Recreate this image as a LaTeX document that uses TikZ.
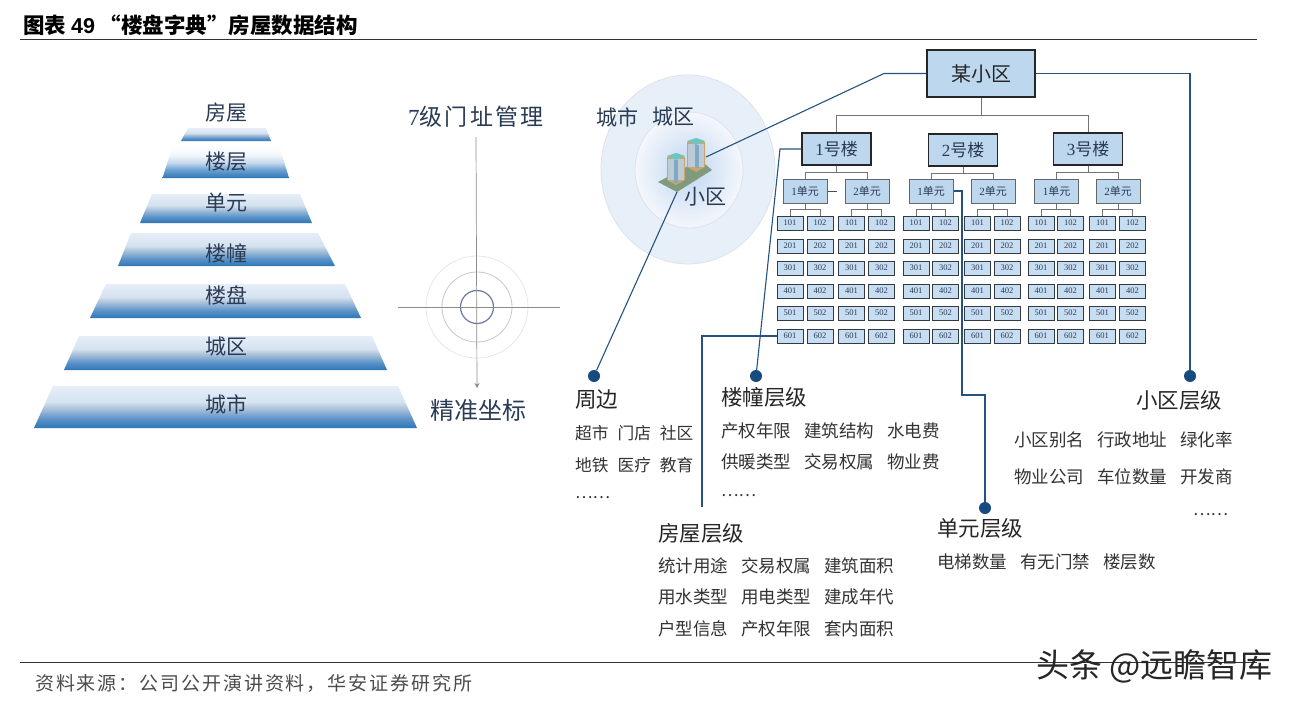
\documentclass[tikz,border=0pt]{standalone}
\usepackage{fontspec}
\setmainfont{Noto Sans CJK SC}
\newfontfamily\serifdig{Liberation Serif}
\newfontfamily\sansdig{Liberation Sans}
\usetikzlibrary{arrows.meta,calc}
\newcommand{\fs}[1]{\fontsize{#1}{#1}\selectfont}
\definecolor{boxblue}{HTML}{BDD7EE}
\definecolor{navy}{HTML}{26527F}
\definecolor{dotblue}{HTML}{174A7E}
\definecolor{inkblue}{HTML}{2A3B55}
\definecolor{inkgray}{HTML}{333A44}
\definecolor{pa}{HTML}{2E75B6}
\definecolor{pb}{HTML}{5B93C8}
\definecolor{pc}{HTML}{B5C9DE}
\definecolor{pd}{HTML}{D5E2F0}
\definecolor{pe}{HTML}{E6EEF8}
\definecolor{pf}{HTML}{6FA3D2}
\definecolor{pg}{HTML}{C5D8EC}
\definecolor{ph}{HTML}{F3F7FC}
\definecolor{ringout}{HTML}{E7F0F9}
\definecolor{ringedge}{HTML}{DDE3E8}
\definecolor{ringin}{HTML}{F4F7FC}
\definecolor{ringmid}{HTML}{BFD6F0}
\definecolor{twbase}{HTML}{7F9A7D}
\definecolor{twedge}{HTML}{C9A76C}
\definecolor{twbody}{HTML}{BCCBD6}
\definecolor{twstripe}{HTML}{7FA9C4}
\definecolor{twtop}{HTML}{6FC4BE}
\definecolor{tgt}{HTML}{6F78A8}
\pgfdeclareverticalshading{pyr}{100bp}{
 color(0bp)=(pa);
 color(25bp)=(pa);
 color(36bp)=(pb);
 color(50bp)=(pc);
 color(56bp)=(pd);
 color(75bp)=(pe);
 color(100bp)=(pe)}
\pgfdeclareverticalshading{pyrtop}{100bp}{
 color(0bp)=(pa);
 color(25bp)=(pa);
 color(38bp)=(pf);
 color(48bp)=(pg);
 color(60bp)=(ph);
 color(75bp)=(white);
 color(100bp)=(white)}
\tikzset{
 x=1pt,y=-1pt,
 room/.style={draw=inkgray,fill=boxblue!85!white,line width=.8pt,minimum width=26pt,minimum height=14pt,inner sep=0pt,text=inkblue,font=\serifdig\fs{8.5}},
 unitbox/.style={draw=black!60,fill=boxblue,line width=1pt,minimum width=44pt,minimum height=24pt,inner sep=0pt,text=inkblue,font=\fs{11}},
 bldbox/.style={draw=black!85,fill=boxblue,line width=1.4pt,minimum width=69pt,minimum height=32pt,inner sep=0pt,text=inkblue,font=\fs{17}},
 topbox/.style={draw=black!85,fill=boxblue,line width=1.4pt,minimum width=108pt,minimum height=47pt,inner sep=0pt,text=black!85,font=\fs{20}},
 tree/.style={draw=black!55,line width=1pt},
 lead/.style={draw=navy,line width=1.1pt,line join=miter},
 dotn/.style={circle,fill=dotblue,minimum size=12pt,inner sep=0pt},
 pyrlab/.style={text=inkblue,font=\fs{21},inner sep=0pt},
 big/.style={text=inkblue,font=\fs{21},inner sep=0pt},
 head/.style={anchor=west,text=black!85,font=\fs{21.5},inner sep=0pt},
 body/.style={anchor=west,text=black!80,font=\fs{17.5},inner sep=0pt},
 rule/.style={draw=black!80,line width=1pt},
 cross/.style={draw=black!45,line width=.7pt}
}
\newcommand{\sep}{\hspace{13pt}}
\newcommand{\gap}{\hspace{9pt}}
\begin{document}
\begin{tikzpicture}
\useasboundingbox (0,0) rectangle (1293,704);
\fill[white] (0,0) rectangle (1293,704);

% title & footer
\node[anchor=west,inner sep=0pt,text=black,font=\bfseries\fs{21.5}] (title) at (23,25) {图表 {\sansdig\bfseries 49} “楼盘字典”房屋数据结构};
\coordinate (rtl) at (20,39.5); \coordinate (rtr) at (1257,39.5);
\draw[rule] (rtl) -- (rtr);
\coordinate (rbl) at (20,662.5); \coordinate (rbr) at (1257,662.5);
\draw[rule] (rbl) -- (rbr);
\node[anchor=west,inner sep=0pt,text=black!70,font=\fs{19}] (src) at (35,683) {\addfontfeature{LetterSpace=10}资料来源：公司公开演讲资料，华安证券研究所};
\node[anchor=east,inner sep=0pt,text=black!85,font=\fs{33}] (wm) at (1273,666) {头条 @远瞻智库};

% pyramid
\shade[shading=pyr] (188,128) -- (266,128) -- (271,141) -- (181,141) -- cycle;
\shade[shading=pyrtop] (173,145) -- (279,145) -- (289,178) -- (162.5,178) -- cycle;
\shade[shading=pyr] (152,194) -- (300,194) -- (312,223) -- (140,223) -- cycle;
\shade[shading=pyr] (131,233) -- (318,233) -- (335,266) -- (118,266) -- cycle;
\shade[shading=pyr] (106,284) -- (345,284) -- (361,318) -- (90,318) -- cycle;
\shade[shading=pyr] (79,336) -- (372,336) -- (387,370) -- (64,370) -- cycle;
\shade[shading=pyr] (53,386) -- (398,386) -- (417,428) -- (34,428) -- cycle;
\node[pyrlab] (p1) at (226,113) {房屋};
\node[pyrlab] (p2) at (226,162) {楼层};
\node[pyrlab] (p3) at (226,203) {单元};
\node[pyrlab] (p4) at (226,253) {楼幢};
\node[pyrlab] (p5) at (226,295) {楼盘};
\node[pyrlab] (p6) at (226,347) {城区};
\node[pyrlab] (p7) at (226,404) {城市};

% target
\node[text=inkblue,inner sep=0pt,font=\fs{23}] (t7) at (476,117) {\addfontfeature{LetterSpace=10}{\serifdig 7}级门址管理};
\node[text=inkblue,inner sep=0pt,font=\fs{24}] (tz) at (478,410) {精准坐标};
\coordinate (tvt) at (476,137); \coordinate (tvb) at (477,388);
\coordinate (thl) at (398,307); \coordinate (thr) at (560,307);
\draw[draw=black!10,line width=.7pt] (477,307) circle[radius=51];
\draw[draw=black!22,line width=.8pt] (477,307) circle[radius=35];
\draw[draw=tgt,line width=1.2pt] (477,307) circle[radius=16.5];
\draw[cross,-{Stealth[length=5pt,width=5pt]}] (tvt) -- (tvb);
\draw[cross] (thl) -- (thr);

% rings
\filldraw[fill=ringout,draw=ringedge,line width=.8pt] (688,169.5) ellipse[x radius=87,y radius=94.5];
\shade[inner color=ringmid,outer color=ringin] (689,170) ellipse[x radius=54,y radius=58];
\draw[ringedge,line width=.8pt] (689,170) ellipse[x radius=54,y radius=58];

% towers
\fill[twbase] (658,182) -- (677,192) -- (712,170) -- (700,160) -- cycle;
\fill[twedge] (687,142) -- (695,139) -- (705,142) -- (705,167) -- (696,172) -- (687,167) -- cycle;
\fill[twbody] (688,144) rectangle (704,167);
\fill[twstripe] (695,145) rectangle (699,168);
\fill[twtop] (687,141) -- (696,138) -- (705,141) -- (696,145) -- cycle;
\fill[twedge] (667,157) -- (676,153) -- (685,157) -- (685,180) -- (676,185) -- (667,180) -- cycle;
\fill[twbody] (668,159) rectangle (684,180);
\fill[twstripe] (674,160) rectangle (678,183);
\fill[twtop] (667,156) -- (676,153) -- (685,156) -- (676,160) -- cycle;
\coordinate (twr) at (706,157);
\coordinate (twl) at (677,192);

\node[big] (c1) at (617,117) {城市};
\node[big] (c2) at (673,117) {城区};
\node[big] (c3) at (705.5,197) {小区};

% tree
\node[topbox] (xq) at (981,73.5) {某小区};
\node[bldbox] (b1) at (836.5,149) {{\serifdig 1}号楼};
\node[bldbox] (b2) at (963,150) {{\serifdig 2}号楼};
\node[bldbox] (b3) at (1088,149) {{\serifdig 3}号楼};
\coordinate (bus) at (981,115);
\draw[tree] (xq.south) -- (bus);
\draw[tree] (b1.north) -- (b1.north |- bus) -- (b3.north |- bus) -- (b3.north);

\foreach \u/\ux/\ra/\rb/\lab in {1/805/790/820/1,2/867/851.5/881.5/2,3/931/916/945.5/1,4/993/977.5/1007/2,5/1056.5/1041/1070.5/1,6/1118/1102.5/1132.5/2}{
  \node[unitbox] (u\u) at (\ux,191) {{\serifdig\lab}单元};
  \foreach \f/\ry in {1/223,2/246,3/268,4/291,5/313,6/336}{
    \node[room] (r\u-\f-1) at (\ra,\ry) {\f01};
    \node[room] (r\u-\f-2) at (\rb,\ry) {\f02};
  }
  \draw[tree,line width=.8pt] (u\u.south) -- ++(0,6) -| (r\u-1-1.north);
  \draw[tree,line width=.8pt] (u\u.south) -- ++(0,6) -| (r\u-1-2.north);
}
\foreach \b/\ua/\ub in {1/1/2,2/3/4,3/5/6}{
  \draw[tree] (b\b.south) -- ++(0,7) -| (u\ua.north);
  \draw[tree] (b\b.south) -- ++(0,7) -| (u\ub.north);
}
\coordinate (stub) at (837,191);
\draw[draw=black!70,line width=1pt] (u1.east) -- (stub);

% dots
\node[dotn] (d1) at (594,376) {};
\node[dotn] (d2) at (756,376) {};
\node[dotn] (d3) at (1190,376) {};
\node[dotn] (d4) at (985,508) {};
\coordinate (k1) at (884,73.5);
\coordinate (k2) at (1190,73.5);
\coordinate (k3) at (780,149);
\coordinate (k4) at (962,191);
\coordinate (k5) at (962,395);
\coordinate (k6) at (985,395);
\coordinate (k7) at (702,336);
\coordinate (k8) at (702,507);
\draw[lead] (xq.west) -- (k1) -- (twr);
\draw[lead] (xq.east) -- (k2) -- (d3);
\draw[lead] (b1.west) -- (k3) -- (d2);
\draw[lead] (twl) -- (d1);
\draw[lead] (u3.east) -- (k4) -- (k5) -- (k6) -- (d4);
\draw[lead] (r1-6-1.west) -- (k7) -- (k8);

% text blocks
\node[head] (h1) at (575,400) {周边};
\node[body,font=\fs{16.7}] (h1a) at (575,433) {超市\gap 门店\gap 社区};
\node[body,font=\fs{16.7}] (h1b) at (575,465) {地铁\gap 医疗\gap 教育};
\node[body,font=\fs{16.5}] (h1c) at (575,498) {……};

\node[head] (h2) at (721,397) {楼幢层级};
\node[body] (h2a) at (721,431) {产权年限\sep 建筑结构\sep 水电费};
\node[body] (h2b) at (721,462) {供暖类型\sep 交易权属\sep 物业费};
\node[body,font=\fs{16.5}] (h2c) at (721,496) {……};

\node[head] (h3) at (1136,400) {小区层级};
\node[body] (h3a) at (1014,440) {小区别名\sep 行政地址\sep 绿化率};
\node[body] (h3b) at (1014,477) {物业公司\sep 车位数量\sep 开发商};
\node[body,font=\fs{16.5}] (h3c) at (1193,515) {……};

\node[head] (h4) at (658,533) {房屋层级};
\node[body] (h4a) at (658,566) {统计用途\sep 交易权属\sep 建筑面积};
\node[body] (h4b) at (658,597) {用水类型\sep 用电类型\sep 建成年代};
\node[body] (h4c) at (658,629) {户型信息\sep 产权年限\sep 套内面积};

\node[head] (h5) at (937,528) {单元层级};
\node[body] (h5a) at (937,562) {电梯数量\sep 有无门禁\sep 楼层数};
\end{tikzpicture}
\end{document}
